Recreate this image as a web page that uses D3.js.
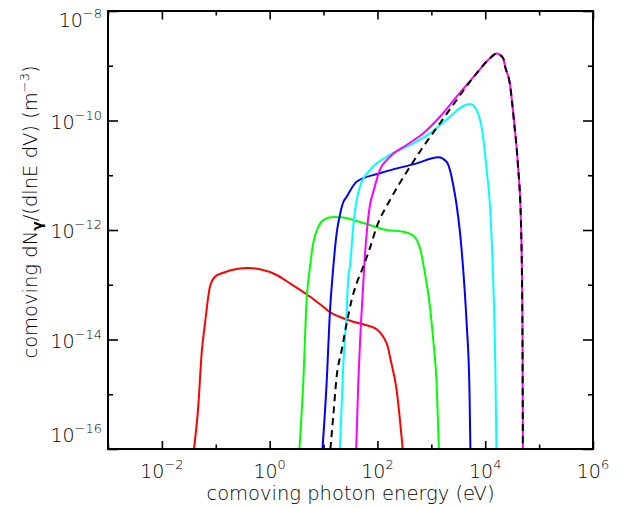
<!DOCTYPE html>
<html><head><meta charset="utf-8">
<script src="https://cdn.jsdelivr.net/npm/d3@7"></script>
<style>body{margin:0;background:#fff} svg{display:block}</style>
</head><body>
<svg id="c" width="625" height="508"></svg>
<script>
// ---- data ----
const redE = [0.0394, 0.0473, 0.0547, 0.0631, 0.078, 0.0966, 0.138, 0.244, 0.401, 0.661, 1.349, 2.382, 4.853, 7.447, 9.86, 12.22, 23.17, 35.56, 54.6, 96.6, 128.2, 158.5, 170.6, 227, 294];
const redN = [1e-16, 5.93e-16, 5.66e-15, 1.977e-14, 9.2e-14, 1.403e-13, 1.66e-13, 1.941e-13, 2.023e-13, 1.914e-13, 1.507e-13, 1.062e-13, 6.7e-14, 4.9e-14, 3.97e-14, 3.32e-14, 2.44e-14, 2.11e-14, 1.897e-14, 1.535e-14, 1.125e-14, 6.9e-15, 4.85e-15, 1.197e-15, 1e-16];

const greenE = [3.57, 4.20, 4.85, 5.60, 6.44, 7.98, 9.86, 15.1, 23.2, 41.1, 63.1, 148, 297, 456, 614, 760, 942, 1084, 1253, 1384];
const greenN = [1e-16, 1.6e-15, 5.26e-14, 2.11e-13, 5.79e-13, 1.135e-12, 1.52e-12, 1.73e-12, 1.69e-12, 1.46e-12, 1.29e-12, 1.0e-12, 9.31e-13, 7.94e-13, 4.69e-13, 1.64e-13, 3.97e-14, 9.8e-15, 1.6e-15, 1e-16];

const blueE = [9.55, 11.4, 13.2, 14.9, 17.5, 20.1, 22.9, 26.9, 41.1, 111, 533, 1343, 1923, 2213, 2547, 2944, 3396, 3908, 4519, 5100, 5310];
const blueN = [1e-16, 1.6e-15, 3.46e-14, 1.71e-13, 8.81e-13, 1.88e-12, 3.11e-12, 4.06e-12, 7.62e-12, 1.086e-11, 1.65e-11, 2.13e-11, 1.75e-11, 1.25e-11, 6.64e-12, 2.86e-12, 9.18e-13, 1.86e-13, 2.0e-14, 1.2e-15, 1e-16];

const cyanE = [20.1, 23.2, 26.9, 28.7, 30.9, 35.6, 41.1, 47.3, 72.6, 148, 348, 942, 2213, 3908, 5200, 6918, 9183, 10620, 12220, 14060, 15450, 16140];
const cyanN = [1e-16, 3.18e-15, 3.46e-14, 1.33e-13, 2.14e-13, 1.18e-12, 3.53e-12, 6.18e-12, 1.25e-11, 2.18e-11, 3.32e-11, 5.83e-11, 1.172e-10, 1.84e-10, 2.0e-10, 1.556e-10, 4.79e-11, 1.25e-11, 2.86e-12, 1.22e-13, 2.77e-15, 1e-16];

const magentaE = [40.3, 44.1, 48.4, 53.8, 58.6, 65.2, 72.6, 83.6, 111, 171, 348, 708, 1445, 2944, 6918, 12220, 16260, 21580, 23220, 28710, 34040, 40460, 45920, 48980, 50000];
const magentaN = [1e-16, 1.6e-15, 1.315e-14, 8.02e-14, 3.49e-13, 1.23e-12, 2.86e-12, 4.94e-12, 1.25e-11, 2.18e-11, 3.57e-11, 5.83e-11, 1.172e-10, 2.72e-10, 7.28e-10, 1.368e-9, 1.675e-9, 1.368e-9, 9.89e-10, 4.65e-10, 1.02e-10, 1.54e-11, 1.52e-12, 2.27e-14, 1e-16];

const totalE = [13.4, 15.1, 17.5, 21.7, 26.9, 33.2, 41.1, 51.5, 72.6, 96.6, 171, 348, 708, 1445, 2944, 6918, 12220, 16260, 21580, 23220, 28710, 34040, 40460, 45920, 48980, 50000];
const totalN = [1e-16, 3.89e-16, 2.09e-15, 6.43e-15, 1.977e-14, 5.26e-14, 1.062e-13, 1.86e-13, 4.69e-13, 1.135e-12, 3.53e-12, 1.146e-11, 3.32e-11, 8.89e-11, 2.37e-10, 7.28e-10, 1.368e-9, 1.675e-9, 1.368e-9, 9.89e-10, 4.65e-10, 1.02e-10, 1.54e-11, 1.52e-12, 2.27e-14, 1e-16];

const xMajorTicks = [1e-2, 1e0, 1e2, 1e4, 1e6];
const xMajorExps = ["−2", "0", "2", "4", "6"];
const xMinorTicks = [1e-3, 1e-1, 1e1, 1e3, 1e5];
const yMajorTicks = [1e-16, 1e-14, 1e-12, 1e-10, 1e-8];
const yMajorExps = ["−16", "−14", "−12", "−10", "−8"];
const yMinorTicks = [1e-15, 1e-13, 1e-11, 1e-9];
const xTitle = "comoving photon energy (eV)";

// ---- drawing ----
const L = 108, R = 593, T = 11, B = 449;
const svg = d3.select("#c");
const x = d3.scaleLog().domain([1e-3, 1e6]).range([L, R]);
const y = d3.scaleLog().domain([1e-16, 1e-8]).range([B, T]);
const font = "'DejaVu Sans', sans-serif";
const txt = "#000";
const fw = 200;

svg.append("defs").append("clipPath").attr("id", "clip")
  .append("rect").attr("x", L).attr("y", T).attr("width", R - L).attr("height", B - T);

const series = [
  {E: redE, N: redN, color: "#ff0000"},
  {E: greenE, N: greenN, color: "#00ff00"},
  {E: blueE, N: blueN, color: "#0000ff"},
  {E: cyanE, N: cyanN, color: "#00ffff"},
  {E: magentaE, N: magentaN, color: "#ff00ff"},
  {E: totalE, N: totalN, color: "#000000", dash: "7,5"}
];
const line = d3.line().x(d => x(d[0])).y(d => y(d[1])).curve(d3.curveMonotoneX);
const g = svg.append("g").attr("clip-path", "url(#clip)");
series.forEach(s => {
  g.append("path")
    .attr("d", line(s.E.map((e, i) => [e, s.N[i]])))
    .attr("fill", "none").attr("stroke", s.color).attr("stroke-width", 2)
    .attr("stroke-dasharray", s.dash || null)
    .attr("stroke-linejoin", "round");
});

// ticks (inward, all four sides)
function tickAxis(axisFn, scale, vals, size, tx, ty) {
  const a = svg.append("g").attr("transform", `translate(${tx},${ty})`)
    .call(axisFn(scale).tickValues(vals).tickSize(size).tickFormat(""));
  a.select(".domain").remove();
  a.selectAll("line").attr("stroke", "#000").attr("stroke-width", 1.6);
}
tickAxis(d3.axisBottom, x, xMajorTicks, -8, 0, B);
tickAxis(d3.axisBottom, x, xMinorTicks, -4.5, 0, B);
tickAxis(d3.axisTop, x, xMajorTicks, -8.5, 0, T);
tickAxis(d3.axisTop, x, xMinorTicks, -4.5, 0, T);
tickAxis(d3.axisLeft, y, yMajorTicks, -10, L, 0);
tickAxis(d3.axisLeft, y, yMinorTicks, -5, L, 0);
tickAxis(d3.axisRight, y, yMajorTicks, -10, R, 0);
tickAxis(d3.axisRight, y, yMinorTicks, -5, R, 0);

// frame
svg.append("rect").attr("x", L).attr("y", T).attr("width", R - L).attr("height", B - T)
  .attr("fill", "none").attr("stroke", "#000").attr("stroke-width", 2);

// x tick labels
xMajorTicks.forEach((v, i) => {
  const t = svg.append("text").attr("x", x(v)).attr("y", 478)
    .attr("text-anchor", "middle").attr("font-family", font).attr("font-weight", fw)
    .attr("font-size", 19).attr("fill", txt);
  t.append("tspan").text("10");
  t.append("tspan").attr("dy", -9).attr("font-size", 13).text(xMajorExps[i]);
});
// y tick labels (end labels kept inside the axis range, as in the reference)
yMajorTicks.forEach((v, i) => {
  let base = y(v) + 8;
  if (i === yMajorTicks.length - 1) base = y(v) + 16;
  if (i === 0) base = y(v) - 7;
  const t = svg.append("text").attr("x", 102).attr("y", base)
    .attr("text-anchor", "end").attr("font-family", font).attr("font-weight", fw)
    .attr("font-size", 19).attr("fill", txt);
  t.append("tspan").text("10");
  t.append("tspan").attr("dy", -9).attr("font-size", 13).text(yMajorExps[i]);
});

// axis titles
svg.append("text").attr("x", (L + R) / 2).attr("y", 500).attr("text-anchor", "middle")
  .attr("font-family", font).attr("font-weight", fw).attr("font-size", 19.5).attr("fill", txt).text(xTitle);

const yt = svg.append("text").attr("transform", "translate(37,212) rotate(-90)")
  .attr("text-anchor", "middle").attr("font-family", font).attr("font-weight", fw)
  .attr("font-size", 19.5).attr("fill", txt);
yt.append("tspan").text("comoving dN");
yt.append("tspan").attr("dy", 5).attr("font-size", 14).attr("font-weight", "bold").text("γ");
yt.append("tspan").attr("dy", -5).text("/(dlnE dV)  (m");
yt.append("tspan").attr("dy", -8).attr("font-size", 13).text("−3");
yt.append("tspan").attr("dy", 8).text(")");
</script>
</body></html>
